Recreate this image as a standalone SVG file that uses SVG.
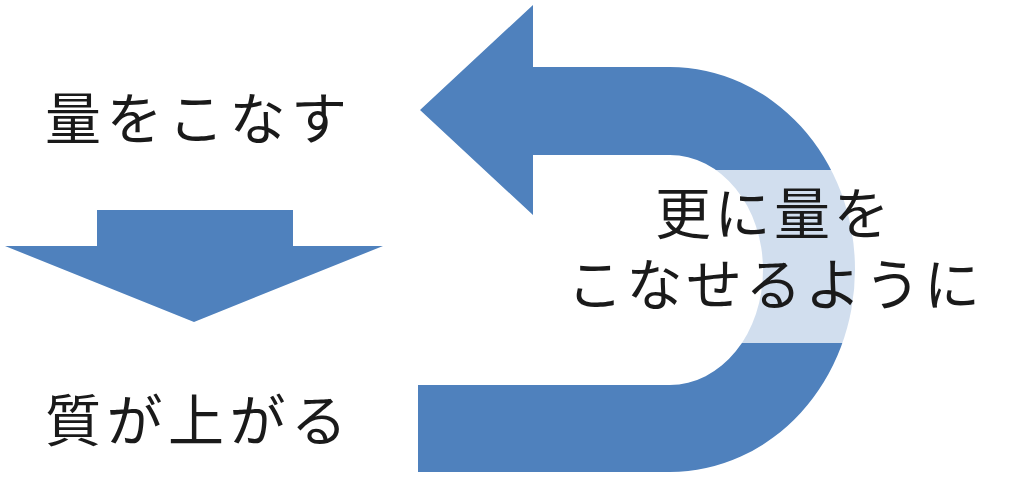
<svg xmlns="http://www.w3.org/2000/svg" width="1024" height="481" viewBox="0 0 1024 481">
  <style>
    .shape { fill: #4f81bd; }
    .label { font-family: "Liberation Sans", "Noto Sans CJK JP", sans-serif; font-size: 56px; fill: #1a1a1a; letter-spacing: 3.5px; }
    .wide { letter-spacing: 5.5px; }
  </style>
  <rect x="0" y="0" width="1024" height="481" fill="#ffffff"/>
  <g id="connectors">
    <g id="down-arrow">
      <path class="shape" d="M97 210 L293 210 L293 246 L383 246 L194 322 L5 246 L97 246 Z"/>
    </g>
    <g id="uturn-arrow">
      <path class="shape" d="M420 110 L533 5 L533 67 L670 67 A185 202.5 0 0 1 670 472 L418 472 L418 385 L670 385 A93 115 0 0 0 670 155 L533 155 L533 215 Z"/>
      <rect x="555" y="170" width="435" height="173" fill="#ffffff" fill-opacity="0.74"/>
    </g>
  </g>
  <g id="node-ryo">
    <text class="label wide" x="45" y="139">量をこなす</text>
  </g>
  <g id="node-shitsu">
    <text class="label wide" x="45" y="441">質が上がる</text>
  </g>
  <g id="node-sarani">
    <text class="label" x="655" y="234">更に量を</text>
    <text class="label" x="567" y="305">こなせるように</text>
  </g>
</svg>
